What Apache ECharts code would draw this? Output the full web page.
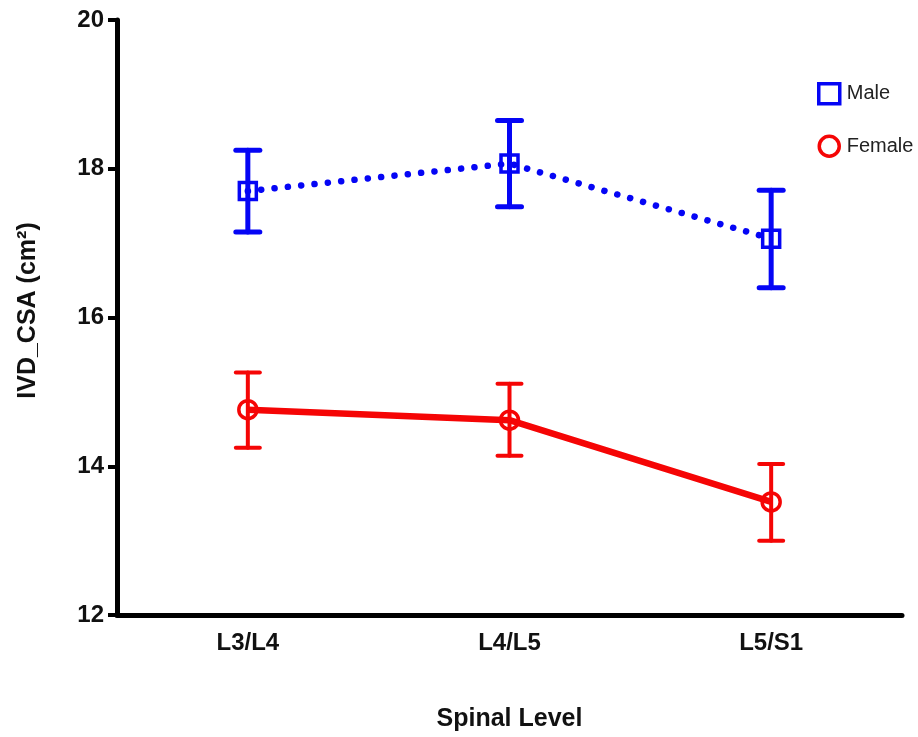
<!DOCTYPE html>
<html><head><meta charset="utf-8">
<script src="https://cdn.jsdelivr.net/npm/echarts@6/dist/echarts.min.js"></script>
<style>html,body{margin:0;padding:0;background:#fff}#c{width:918px;height:737px}</style>
</head><body><div id="c"></div>
<script>
const categories = ['L3/L4', 'L4/L5', 'L5/S1'];
const maleMean = [17.70, 18.07, 17.06];
const maleUpper = [18.25, 18.65, 17.71];
const maleLower = [17.15, 17.49, 16.40];
const femaleMean = [14.76, 14.62, 13.52];
const femaleUpper = [15.26, 15.11, 14.03];
const femaleLower = [14.25, 14.14, 13.00];
const yTicks = [12, 14, 16, 18, 20];

const BLUE = '#0505f5', RED = '#f50505';
const FONT = 'Arial, "Liberation Sans", sans-serif';

function errData(lo, hi) { return categories.map((c, i) => [i, lo[i], hi[i]]); }
function errSeries(name, lo, hi, color, w) {
  return {
    type: 'custom', name: name + ' err', z: 5,
    data: errData(lo, hi),
    renderItem: function (params, api) {
      const x = api.value(0);
      const a = api.coord([x, api.value(1)]);
      const b = api.coord([x, api.value(2)]);
      const hw = 12;
      const st = { stroke: color, lineWidth: w, lineCap: 'round' };
      return { type: 'group', children: [
        { type: 'line', shape: { x1: a[0], y1: a[1], x2: b[0], y2: b[1] }, style: st },
        { type: 'line', shape: { x1: a[0] - hw, y1: a[1], x2: a[0] + hw, y2: a[1] }, style: st },
        { type: 'line', shape: { x1: b[0] - hw, y1: b[1], x2: b[0] + hw, y2: b[1] }, style: st }
      ]};
    },
    silent: true
  };
}

const chart = echarts.init(document.getElementById('c'));
chart.setOption({
  animation: false,
  backgroundColor: '#fff',
  grid: { left: 117, right: 16, top: 20, bottom: 119 },
  legend: {
    orient: 'vertical', left: 812, top: 77, itemGap: 29, itemWidth: 21, itemHeight: 20,
    textStyle: { fontFamily: FONT, fontSize: 20, color: '#222', padding: [0, 0, 0, 2] },
    data: [
      { name: 'Male', icon: 'rect', itemStyle: { color: 'rgba(0,0,0,0)', borderColor: BLUE, borderWidth: 3.5 } },
      { name: 'Female', icon: 'circle', itemStyle: { color: 'rgba(0,0,0,0)', borderColor: RED, borderWidth: 3.5 } }
    ]
  },
  xAxis: {
    type: 'category', data: categories, boundaryGap: true,
    name: 'Spinal Level', nameLocation: 'middle', nameGap: 92,
    nameTextStyle: { fontFamily: FONT, fontSize: 25, fontWeight: 'bold', color: '#111' },
    axisLine: { lineStyle: { color: '#000', width: 5 } },
    axisTick: { alignWithLabel: true, length: 7, lineStyle: { width: 4, color: '#000' } },
    axisLabel: { fontFamily: FONT, fontSize: 24, fontWeight: 'bold', color: '#111', margin: 16 },
    splitLine: { show: false }
  },
  yAxis: {
    type: 'value', min: 12, max: 20, interval: 2,
    name: 'IVD_CSA (cm²)', nameLocation: 'middle', nameGap: 76,
    nameTextStyle: { fontFamily: FONT, fontSize: 25, fontWeight: 'bold', color: '#111', padding: [0, 0, 0, 14] },
    axisLine: { show: true, lineStyle: { color: '#000', width: 5 } },
    axisTick: { show: true, length: 9, lineStyle: { width: 4, color: '#000' } },
    axisLabel: { fontFamily: FONT, fontSize: 24, fontWeight: 'bold', color: '#111', margin: 13,
      formatter: v => yTicks.includes(v) ? String(v) : '' },
    splitLine: { show: false }
  },
  series: [
    {
      name: 'Male', type: 'line', data: maleMean, z: 4,
      symbol: 'rect', symbolSize: 17,
      itemStyle: { color: 'rgba(0,0,0,0)', borderColor: BLUE, borderWidth: 3.5 },
      lineStyle: { color: BLUE, width: 6.5, type: [0.1, 13.3], cap: 'round' }
    },
    {
      name: 'Female', type: 'line', data: femaleMean, z: 4,
      symbol: 'circle', symbolSize: 18,
      itemStyle: { color: 'rgba(0,0,0,0)', borderColor: RED, borderWidth: 3.5 },
      lineStyle: { color: RED, width: 6.5 }
    },
    errSeries('Male', maleLower, maleUpper, BLUE, 5),
    errSeries('Female', femaleLower, femaleUpper, RED, 4)
  ]
});
</script></body></html>
